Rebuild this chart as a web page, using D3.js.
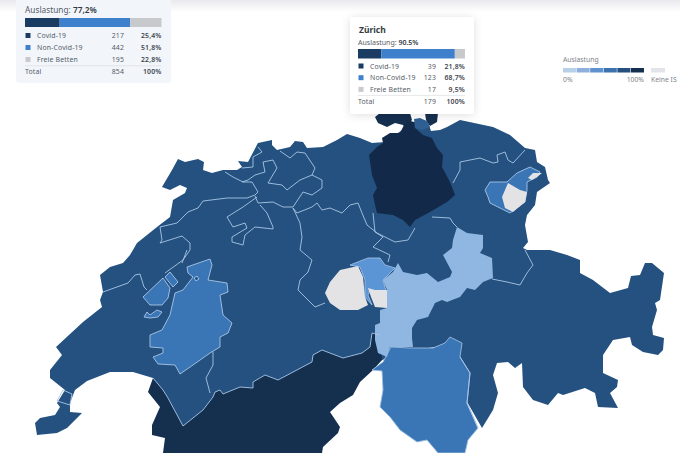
<!DOCTYPE html>
<html><head><meta charset="utf-8">
<script src="https://cdn.jsdelivr.net/npm/d3@7"></script>
<style>html,body{margin:0;padding:0;background:#fff}svg{display:block}text{font-family:"Noto Sans",sans-serif}</style>
</head><body><svg id="c" width="680" height="453"></svg>
<script>
// ---- table data
const rowLabels = ["Covid-19","Non-Covid-19","Freie Betten"];
const rowColors = ["#1a3c63","#3f80cc","#c8c9cc"];
const swissValues = [217,442,195];
const swissPct = ["25,4%","51,8%","22,8%"];
const zurichValues = [39,123,17];
const zurichPct = ["21,8%","68,7%","9,5%"];
const legendColors = ["#b7cfe8","#8fb0dc","#5e93cf","#3b73b0","#25507f","#15304f"];

// ---- map geometry (traced map units)
const chBase = [[162,187],[172,170],[178,159],[185,162],[198,159],[204,162],[203,170],[212,173],[223,170],[237,170],[242,167],[238,161],[248,162],[258,143],[272,140],[272,145],[277,150],[290,147],[295,141],[303,142],[307,148],[323,147],[337,140],[347,134],[360,138],[372,143],[385,142],[405,128],[413,122],[428,122],[431,131],[440,130],[447,127],[460,120],[493,127],[510,135],[525,148],[535,150],[537,162],[545,167],[548,180],[550,183],[537,192],[535,205],[527,215],[525,225],[528,242],[523,248],[527,250],[550,250],[567,255],[580,260],[580,273],[593,280],[610,293],[628,288],[631,276],[640,275],[645,263],[652,263],[664,273],[660,300],[655,303],[657,310],[652,327],[653,335],[664,338],[663,350],[658,355],[643,352],[632,345],[630,337],[613,340],[603,355],[603,373],[618,380],[617,387],[610,393],[618,408],[598,407],[595,393],[585,388],[563,395],[558,393],[548,405],[533,400],[523,387],[522,363],[515,368],[508,362],[497,363],[493,375],[498,393],[493,410],[482,428],[466,400],[460,357],[450,345],[400,352],[378,362],[350,372],[300,385],[250,398],[210,415],[183,430],[165,402],[153,378],[133,372],[110,372],[87,381],[75,390],[70,403],[70,412],[82,413],[67,428],[57,433],[37,435],[35,423],[40,418],[55,415],[60,407],[57,403],[65,390],[50,378],[50,370],[62,355],[56,347],[83,322],[102,307],[100,300],[103,292],[100,275],[110,267],[123,263],[130,255],[137,243],[157,227],[170,217],[173,200],[185,193],[187,188],[180,185],[170,190]];
const valais = [[153,378],[148,392],[160,407],[152,425],[152,435],[165,438],[163,453],[322,453],[323,447],[338,433],[340,427],[330,412],[340,403],[353,395],[360,382],[373,370],[382,360],[380,335],[372,333],[370,347],[362,353],[343,358],[322,350],[313,355],[312,362],[278,380],[265,375],[253,382],[253,388],[240,387],[223,394],[220,390],[215,392],[213,397],[203,410],[183,426],[168,398],[163,390]];
const zurich = [[369,155],[377,147],[383,143],[382,138],[390,133],[400,133],[403,127],[407,120],[414,122],[415,128],[423,135],[432,138],[437,148],[443,155],[442,167],[450,182],[455,195],[447,202],[430,212],[415,220],[410,227],[403,220],[393,215],[377,213],[375,205],[373,195],[377,188],[372,175]];
const schaffhausen = [[375,117],[380,113],[410,113],[412,120],[405,128],[403,125],[395,123],[387,127],[378,123]];
const thurgauTip = [[425,113],[438,113],[437,122],[430,126],[426,120]];
const lakeStein = [[414,119],[420,118],[427,121],[430,127],[422,130],[415,128]];
const ticino = [[372,370],[383,362],[391,347],[410,348],[433,348],[445,343],[450,337],[462,343],[460,357],[470,373],[467,403],[478,428],[468,440],[465,453],[438,453],[427,440],[417,442],[400,430],[390,417],[380,407],[383,390],[382,371]];
const uriGlarus = [[375,325],[380,323],[380,310],[387,308],[387,290],[383,280],[393,272],[398,263],[403,272],[417,275],[427,273],[438,282],[450,277],[452,272],[443,255],[452,248],[453,240],[457,227],[467,233],[483,235],[483,248],[480,253],[492,258],[493,278],[483,282],[475,290],[467,288],[460,297],[447,302],[442,300],[435,303],[428,317],[417,320],[412,328],[412,338],[413,347],[390,347],[387,357],[378,353],[375,340]];
const nidwalden = [[350,265],[368,258],[380,258],[385,265],[395,268],[383,280],[386,291],[370,291],[368,295],[372,305],[365,297],[365,280],[360,267]];
const obwaldenGrey = [[325,293],[330,282],[340,270],[358,266],[363,277],[365,297],[368,305],[358,310],[340,310],[330,303]];
const smallGrey = [[368,288],[375,290],[387,290],[387,308],[375,307],[371,297]];
const fribourg = [[187,267],[210,259],[212,265],[208,280],[227,283],[228,292],[220,295],[223,315],[232,323],[228,333],[220,337],[220,347],[210,353],[193,365],[180,374],[175,365],[158,364],[153,357],[163,353],[163,348],[150,347],[150,335],[162,330],[170,315],[175,293],[183,290],[193,277],[188,273]];
const friHole = [[194,278],[197,276],[199,279],[196,281]];
const broye = [[143,297],[163,278],[170,288],[168,298],[162,305],[150,305]];
const murten = [[165,277],[170,272],[178,282],[173,287]];
const estavayer = [[144,317],[147,312],[150,315],[157,310],[162,312],[158,317],[150,318]];
const stGallenIn = [[485,190],[490,182],[507,182],[517,173],[530,167],[540,172],[537,177],[527,182],[527,190],[525,202],[510,213],[500,208],[490,203],[488,197]];
const appenzellGrey = [[502,197],[508,183],[520,190],[527,192],[525,202],[513,212],[505,208]];
const appenzellTip = [[528,178],[533,173],[542,173],[537,177],[532,180]];

const borderLines = [
 [[103,292],[128,283],[135,275],[140,274],[144,287],[147,290]],
 [[160,227],[162,240],[160,243],[182,236],[190,243],[190,250],[183,260],[165,273]],
 [[182,263],[187,250]],
 [[160,227],[177,223],[188,212],[198,208],[203,201],[227,198],[247,198],[255,195],[258,192],[252,182],[243,182],[233,177],[225,172]],
 [[242,182],[248,180],[255,175],[265,172],[263,162],[273,160],[277,168],[268,183],[282,185],[287,190],[300,180],[312,175],[315,168],[305,153],[297,152],[290,158],[280,151]],
 [[242,168],[253,167],[253,157],[262,152],[258,147]],
 [[312,175],[322,180],[322,188],[312,195],[303,192],[293,207],[283,207],[273,202],[258,203],[255,196]],
 [[257,197],[243,207],[227,217],[233,227],[245,223],[247,228],[232,237],[232,242],[243,245],[245,235],[255,227],[273,229],[273,227],[267,213],[260,205]],
 [[293,208],[300,223],[302,237],[300,250],[312,260],[308,272],[300,280],[298,290],[315,307],[325,303]],
 [[293,208],[297,213],[312,207],[317,203],[322,210],[330,208],[342,213],[350,205],[358,203],[362,213],[367,225],[377,233],[385,237],[395,242],[408,240],[415,228]],
 [[373,213],[375,232],[383,237],[373,247],[390,255],[388,262]],
 [[380,335],[372,333],[370,347],[362,353],[343,358],[322,350],[313,355],[312,362],[278,380],[265,375],[253,382],[253,388],[240,387],[223,394],[220,390],[215,392],[213,397],[203,410],[183,426],[168,398],[163,390],[153,378]],
 [[213,352],[213,365],[206,378],[210,393]],
 [[63,390],[72,394],[70,405],[57,401],[63,390]],
 [[453,183],[460,170],[460,162],[480,158],[493,163],[498,162],[497,155],[505,152],[508,160],[513,163],[525,150]],
 [[432,217],[450,218],[453,223],[457,227]],
 [[525,250],[533,265],[527,273],[520,285],[507,282],[492,279]],
 [[460,357],[470,373],[467,403],[478,428]]
];

const mapRegions = [
 {ring:chBase,fill:"#24517f",stroke:"none"},
 {ring:valais,fill:"#152f4f",stroke:"none"},
 {ring:schaffhausen,fill:"#152f4f",stroke:"none"},
 {ring:thurgauTip,fill:"#152f4f",stroke:"none"},
 {ring:lakeStein,fill:"#2f5f93",stroke:"none"},
 {ring:zurich,fill:"#12294a",stroke:"none"},
 {ring:ticino,fill:"#3a75b5",stroke:"#9dbde0"},
 {ring:uriGlarus,fill:"#8fb7e2",stroke:"none"},
 {ring:nidwalden,fill:"#5b95d6",stroke:"#9dbde0"},
 {ring:obwaldenGrey,fill:"#e3e3e6",stroke:"none"},
 {ring:smallGrey,fill:"#e3e3e6",stroke:"none"},
 {ring:fribourg,fill:"#3a75b5",stroke:"#a9c6e6"},
 {ring:friHole,fill:"#24517f",stroke:"#a9c6e6"},
 {ring:broye,fill:"#3a75b5",stroke:"#a9c6e6"},
 {ring:murten,fill:"#3a75b5",stroke:"#a9c6e6"},
 {ring:estavayer,fill:"#3a75b5",stroke:"#a9c6e6"},
 {ring:stGallenIn,fill:"#3a75b5",stroke:"#a9c6e6"},
 {ring:appenzellGrey,fill:"#e3e3e6",stroke:"none"},
 {ring:appenzellTip,fill:"#e3e3e6",stroke:"none"}
];

const svg = d3.select("#c");
const defs = svg.append("defs");
const f = defs.append("filter").attr("id","sh").attr("x","-20%").attr("y","-20%").attr("width","140%").attr("height","140%");
f.append("feDropShadow").attr("dx",0).attr("dy",1).attr("stdDeviation",4).attr("flood-color","#000").attr("flood-opacity",0.13);
const tg = defs.append("linearGradient").attr("id","top").attr("x1",0).attr("x2",0).attr("y1",0).attr("y2",1);
tg.append("stop").attr("offset",0).attr("stop-color","#e9e9ee");
tg.append("stop").attr("offset",1).attr("stop-color","#fff");

svg.append("rect").attr("width",680).attr("height",12).attr("fill","url(#top)");

const path = d3.geoPath(d3.geoIdentity());
const map = svg.append("g").attr("stroke-linejoin","round");
map.selectAll("path.r").data(mapRegions).join("path").attr("class","r")
  .attr("d",d=>path({type:"Polygon",coordinates:[[...d.ring,d.ring[0]]]}))
  .attr("fill",d=>d.fill).attr("stroke",d=>d.stroke).attr("stroke-width",d=>d.stroke==="none"?0:0.9);
map.selectAll("path.b").data(borderLines).join("path").attr("class","b")
  .attr("d",d=>path({type:"LineString",coordinates:d}))
  .attr("fill","none").attr("stroke","#a9c6e6").attr("stroke-width",0.9);

function panel(o){
  const g = svg.append("g");
  g.append("rect").attr("x",o.x0).attr("y",o.y0).attr("width",o.x1-o.x0).attr("height",o.y1-o.y0)
    .attr("rx",3).attr("fill",o.bg).attr("filter",o.shadow?"url(#sh)":null);
  if(o.title) g.append("text").attr("x",o.bx0+1).attr("y",o.titleY).attr("font-size",8.5).attr("font-weight",700).attr("fill","#333a44").text(o.title);
  const t = g.append("text").attr("x",o.bx0).attr("y",o.subY).attr("font-size",o.subSize).attr("fill","#555c66").text("Auslastung: ");
  t.append("tspan").attr("font-weight",600).attr("fill","#333a44").text(o.load);
  const total = d3.sum(o.values);
  const x = d3.scaleLinear().domain([0,total]).range([o.bx0,o.bx1]);
  let acc = 0;
  o.values.forEach((v,i)=>{
    g.append("rect").attr("x",x(acc)).attr("y",o.barY).attr("width",x(acc+v)-x(acc)).attr("height",o.barH).attr("fill",rowColors[i]);
    acc += v;
  });
  const rowY = d3.scalePoint().domain([0,1,2,3]).range([o.rowTop,o.rowTop+o.rowStep*3]);
  const lab = (tx,y,s,anchor,w,col)=>g.append("text").attr("x",tx).attr("y",y).attr("font-size",6.9).attr("text-anchor",anchor)
      .attr("font-weight",w).attr("fill",col).attr("letter-spacing",0.15).text(s);
  o.values.forEach((v,i)=>{
    const y = rowY(i);
    g.append("rect").attr("x",o.bx0+0.5).attr("y",y-5).attr("width",5).attr("height",5).attr("fill",rowColors[i]);
    lab(o.textX,y,rowLabels[i],"start",400,"#555c66");
    lab(o.numX,y,v,"end",400,"#555c66");
    lab(o.bx1,y,o.pct[i],"end",600,"#3f4650");
  });
  g.append("line").attr("x1",o.bx0).attr("x2",o.bx1).attr("y1",rowY(3)-8.2).attr("y2",rowY(3)-8.2).attr("stroke","#d5d7da").attr("stroke-width",0.6);
  lab(o.bx0,rowY(3),"Total","start",400,"#555c66");
  lab(o.numX,rowY(3),total,"end",400,"#555c66");
  lab(o.bx1,rowY(3),"100%","end",600,"#3f4650");
}
panel({x0:16,x1:171,y0:-4,y1:83,bg:"#f2f6fb",bx0:25,bx1:161.5,subY:13,subSize:8.3,load:"77,2%",barY:18,barH:9,
  values:swissValues,pct:swissPct,rowTop:38,rowStep:12,textX:37,numX:124});
panel({x0:350,x1:474,y0:17,y1:114,bg:"#fff",shadow:true,title:"Zürich",titleY:33,bx0:358,bx1:465,subY:44.5,subSize:7,load:"90.5%",barY:49,barH:9.5,
  values:zurichValues,pct:zurichPct,rowTop:68.5,rowStep:11.7,textX:370,numX:436});

// legend
const lx = d3.scaleBand().domain(d3.range(legendColors.length)).range([563,644]).paddingInner(0.04);
const lg = svg.append("g");
lg.selectAll("rect").data(legendColors).join("rect").attr("x",(d,i)=>lx(i)).attr("y",68).attr("width",lx.bandwidth()).attr("height",4.5).attr("fill",d=>d);
lg.append("rect").attr("x",651).attr("y",68).attr("width",14).attr("height",4.5).attr("fill","#e3e3ea");
const lt=(x,y,s,a)=>lg.append("text").attr("x",x).attr("y",y).attr("font-size",6.8).attr("text-anchor",a).attr("fill","#7d8288").text(s);
lt(563,62,"Auslastung","start");
lt(563,81.5,"0%","start");
lt(644,81.5,"100%","end");
lt(651,81.5,"Keine IS","start");
</script></body></html>
